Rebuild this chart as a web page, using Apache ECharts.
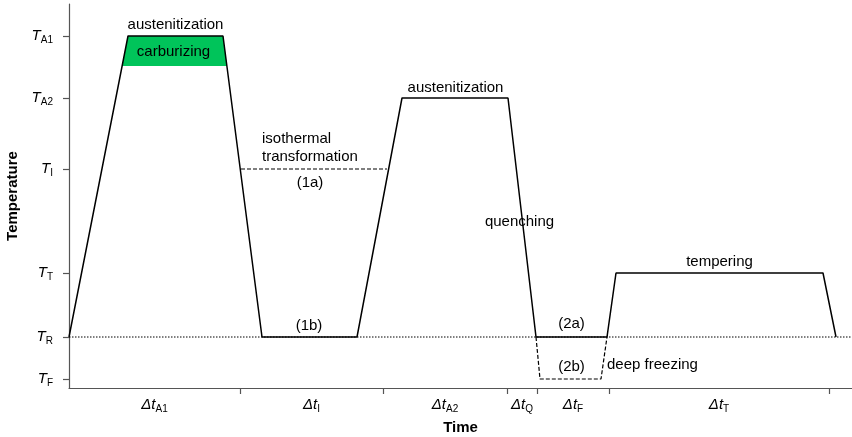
<!DOCTYPE html>
<html><head><meta charset="utf-8">
<script src="https://cdn.jsdelivr.net/npm/echarts@6/dist/echarts.min.js"></script>
<style>html,body{margin:0;padding:0;background:#fff}#c{width:852px;height:437px}</style>
</head><body><div id="c"></div>
<script>
const FONT = '"Liberation Sans", Arial, sans-serif';
// temperature levels (arbitrary units) and their subscripts
const tempLevels = [9, 51, 115, 219, 290, 352];
const tempSubs = ['F', 'R', 'T', 'I', 'A2', 'A1'];
const yMax = 384;
// time segment boundaries (arbitrary units) and labels
const timeBounds = [0, 171, 314, 438, 468, 540, 760];
const timeSubs = ['A1', 'I', 'A2', 'Q', 'F', 'T'];
const xMax = 783;
// main temperature profile
const mainX = [0, 59, 154, 193, 288, 333, 439, 467, 538, 547, 754, 767];
const mainY = [51, 352, 352, 51, 51, 290, 290, 51, 51, 115, 115, 51];
// deep freezing path (2b)
const freezeX = [467, 471, 532, 538];
const freezeY = [51, 9, 9, 51];
// isothermal transformation path (1a)
const isoX = [172, 318];
const isoY = [219, 219];
// room temperature reference
const roomX = [0, 783];
const roomY = [51, 51];
// carburizing area
const carbX = [53, 59, 154, 158];
const carbY = [322, 352, 352, 322];
// annotations
const annoText = ['austenitization', 'carburizing', 'austenitization', 'isothermal\ntransformation', '(1a)', '(1b)', 'quenching', '(2a)', '(2b)', 'deep freezing', 'tempering'];
const annoX = [106.5, 104.5, 386.5, 193, 241, 240, 450.5, 502.5, 502.5, 538, 650.5];
const annoY = [363, 336, 300, 240.5, 205, 62, 166, 64, 21, 23, 126];
const annoAlign = ['center', 'center', 'center', 'left', 'center', 'center', 'center', 'center', 'center', 'left', 'center'];

const pts = (xs, ys) => xs.map((x, i) => [x, ys[i]]);
const mids = timeBounds.slice(0, -1).map((b, i) => (b + timeBounds[i + 1]) / 2);
const axisColor = '#555';

const chart = echarts.init(document.getElementById('c'), null, { renderer: 'canvas' });
chart.setOption({
  animation: false,
  backgroundColor: '#fff',
  textStyle: { fontFamily: FONT, color: '#000' },
  grid: { left: 69, right: 0, top: 4, bottom: 49, containLabel: false, outerBoundsMode: 'none' },
  xAxis: {
    type: 'value', min: 0, max: xMax,
    name: 'Time', nameLocation: 'middle', nameGap: 32,
    nameTextStyle: { fontFamily: FONT, fontSize: 15, fontWeight: 'bold', color: '#000' },
    axisLine: { show: true, lineStyle: { color: axisColor, width: 1.2 } },
    axisTick: { show: true, length: 6, customValues: timeBounds.slice(1), lineStyle: { color: axisColor, width: 1.2 } },
    splitLine: { show: false },
    axisLabel: {
      customValues: mids, margin: 8,
      formatter: (v) => { const i = mids.indexOf(v); return '{d|Δt}{s|' + timeSubs[i] + '}'; },
      rich: {
        d: { fontFamily: FONT, fontSize: 15, fontStyle: 'italic', color: '#000', lineHeight: 18 },
        s: { fontFamily: FONT, fontSize: 10, color: '#000', lineHeight: 10, verticalAlign: 'bottom' }
      }
    }
  },
  yAxis: {
    type: 'value', min: 0, max: yMax,
    name: 'Temperature', nameLocation: 'middle', nameGap: 47,
    nameTextStyle: { fontFamily: FONT, fontSize: 15, fontWeight: 'bold', color: '#000' },
    axisLine: { show: true, lineStyle: { color: axisColor, width: 1.2 } },
    axisTick: { show: true, length: 6, customValues: tempLevels, lineStyle: { color: axisColor, width: 1.2 } },
    splitLine: { show: false },
    axisLabel: {
      customValues: tempLevels, margin: 16,
      formatter: (v) => { const i = tempLevels.indexOf(v); return '{t|T}{s|' + tempSubs[i] + '}'; },
      rich: {
        t: { fontFamily: FONT, fontSize: 15, fontStyle: 'italic', color: '#000', lineHeight: 18 },
        s: { fontFamily: FONT, fontSize: 10, color: '#000', lineHeight: 10, verticalAlign: 'bottom' }
      }
    }
  },
  series: [
    {
      type: 'custom', z: 1, silent: true,
      data: pts(carbX, carbY),
      renderItem: (params, api) => {
        if (params.dataIndex !== 0) return null;
        const poly = pts(carbX, carbY).map(p => api.coord(p));
        return { type: 'polygon', shape: { points: poly }, style: { fill: '#00c45a' } };
      }
    },
    {
      type: 'line', z: 2, symbol: 'none', silent: true,
      data: pts(roomX, roomY),
      lineStyle: { color: '#000', width: 1, type: [1.5, 1.5] }
    },
    {
      type: 'line', z: 3, symbol: 'none', silent: true,
      data: pts(isoX, isoY),
      lineStyle: { color: '#000', width: 1.2, type: [4, 2] }
    },
    {
      type: 'line', z: 3, symbol: 'none', silent: true,
      data: pts(freezeX, freezeY),
      lineStyle: { color: '#000', width: 1.2, type: [4, 2] }
    },
    {
      type: 'line', z: 4, symbol: 'none', silent: true,
      data: pts(mainX, mainY),
      lineStyle: { color: '#000', width: 1.5 }
    },
    {
      type: 'scatter', z: 5, symbolSize: 0, silent: true,
      itemStyle: { opacity: 1 },
      data: annoText.map((t, i) => ({
        value: [annoX[i], annoY[i]], name: t,
        label: { align: annoAlign[i] }
      })),
      label: {
        show: true, position: 'inside', formatter: (p) => p.name,
        fontFamily: FONT, fontSize: 15, color: '#000', lineHeight: 18,
        verticalAlign: 'middle', opacity: 1
      }
    }
  ]
});
</script>
</body></html>
